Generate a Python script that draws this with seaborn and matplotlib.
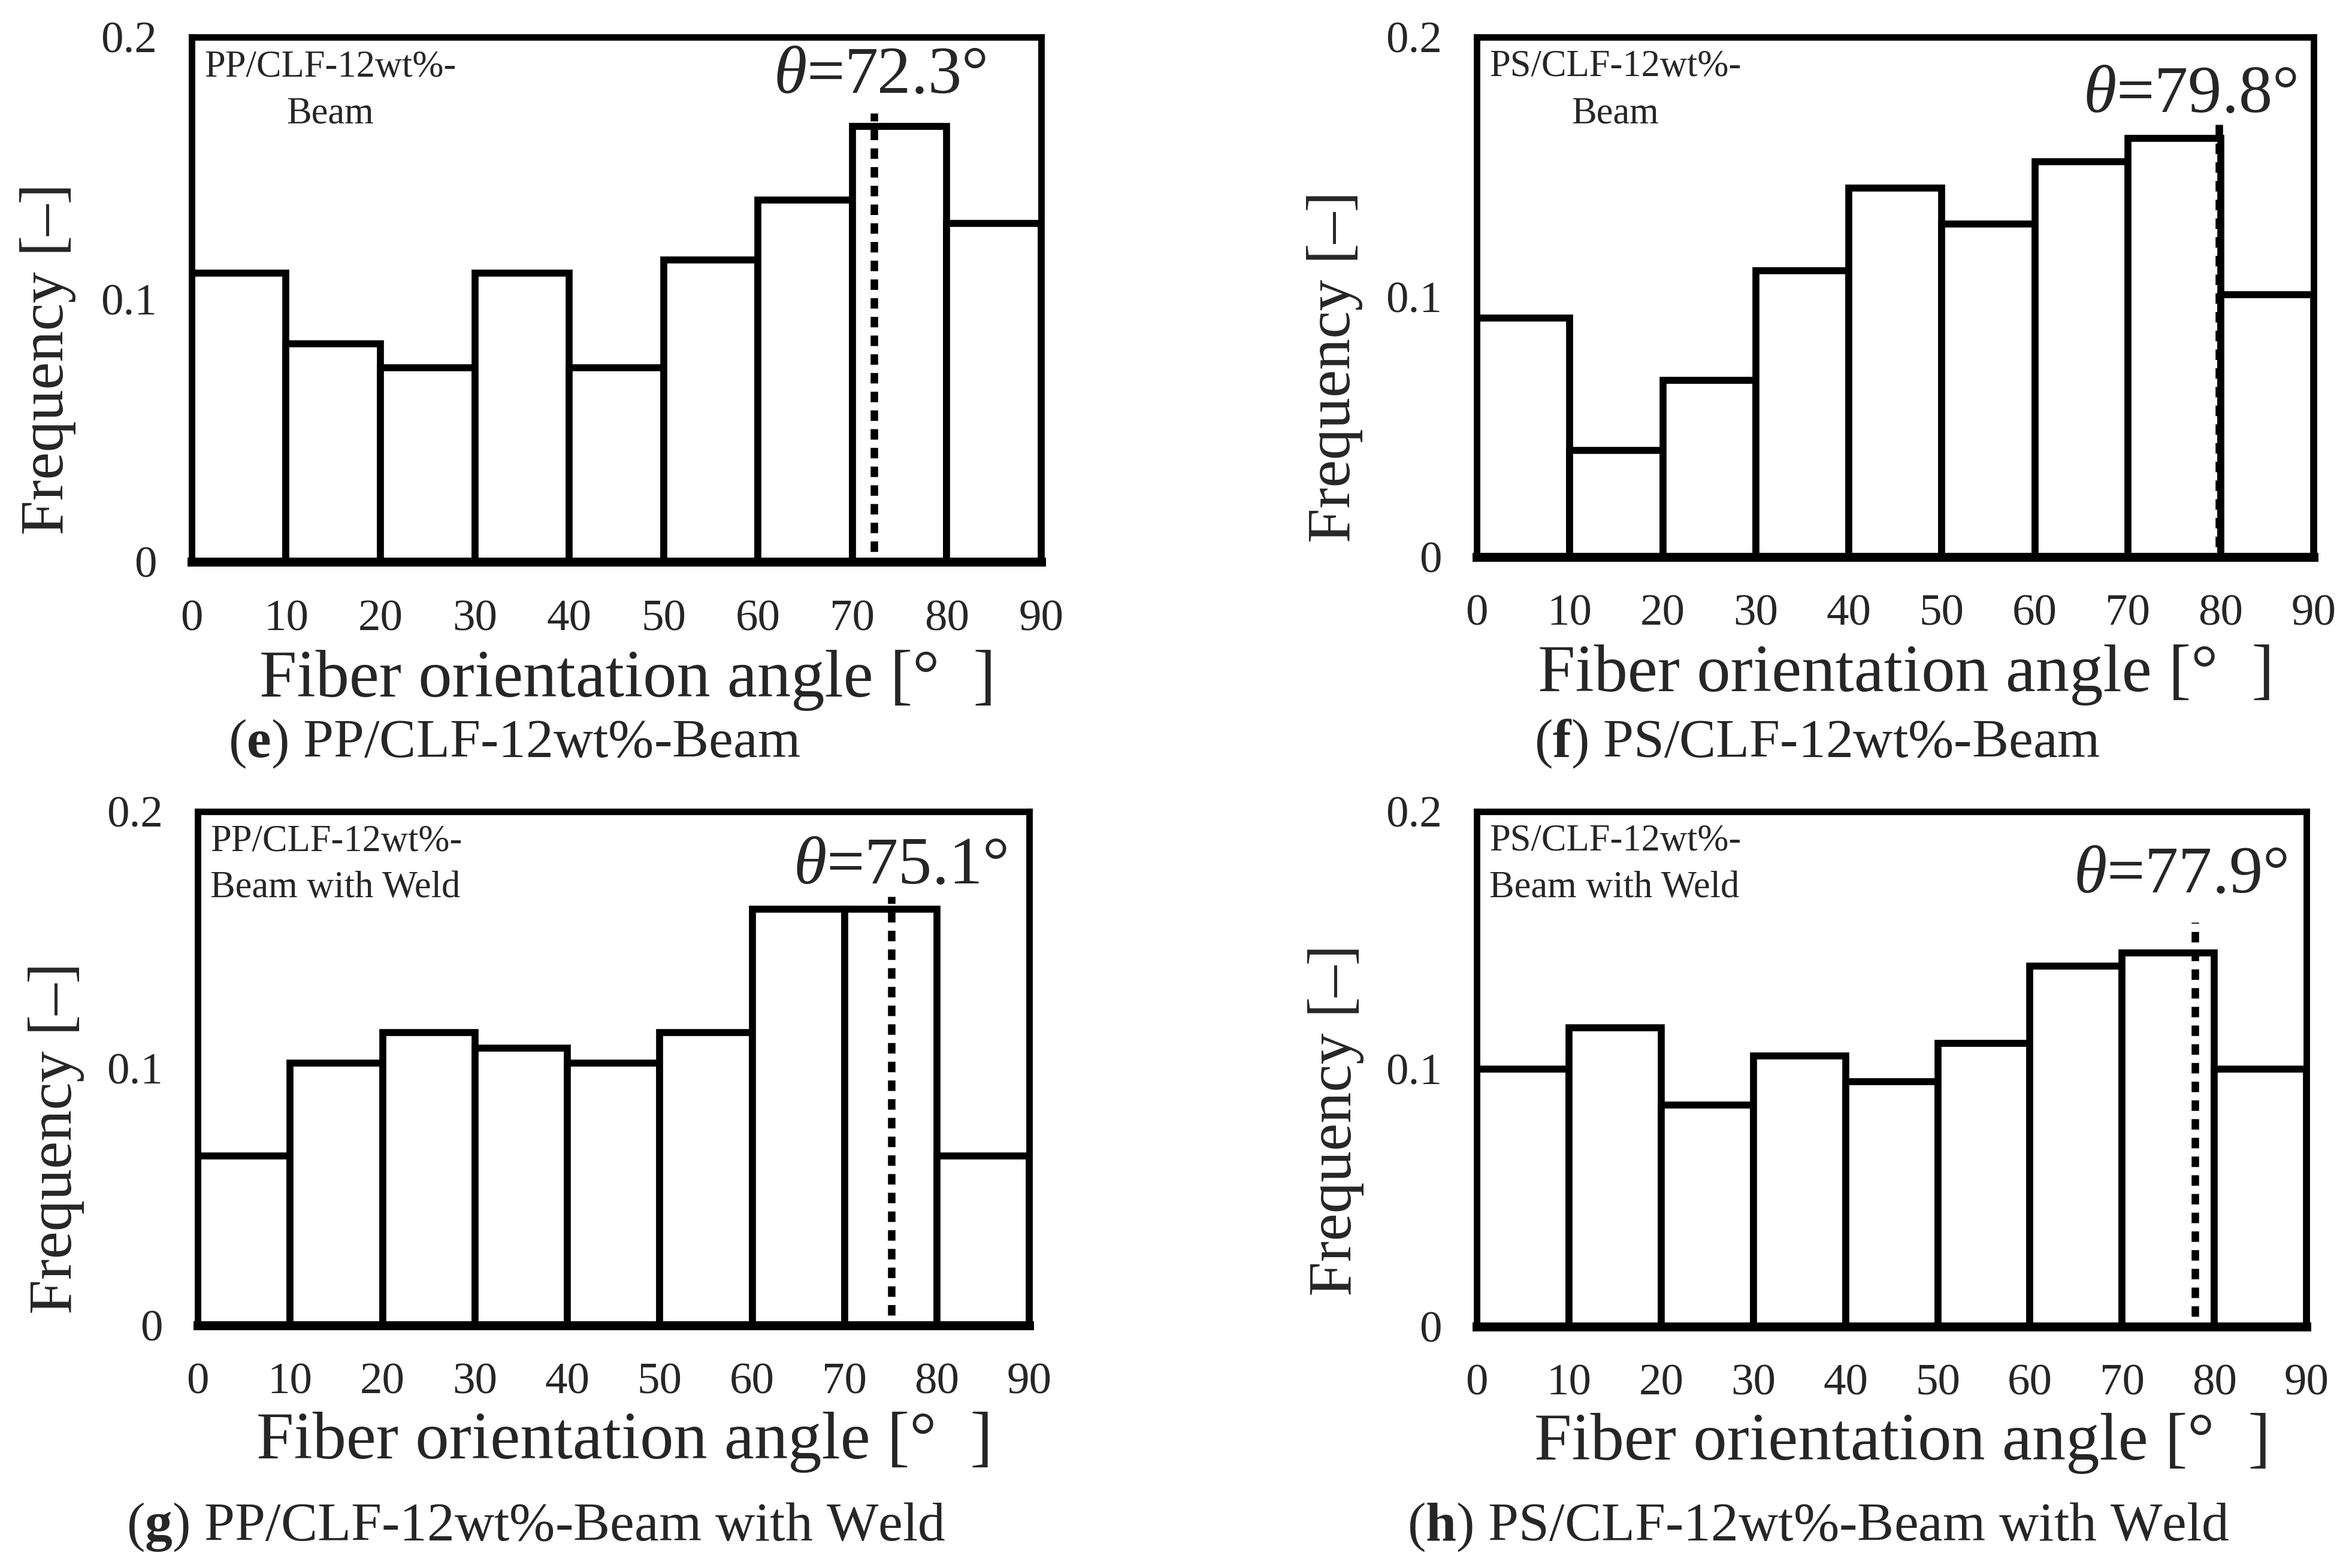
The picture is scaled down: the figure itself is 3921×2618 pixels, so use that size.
import numpy as np
import matplotlib
matplotlib.use("Agg")
import matplotlib.pyplot as plt
import seaborn as sns

# bin edges of the orientation histogram (degrees)
bin_edges = [0, 10, 20, 30, 40, 50, 60, 70, 80, 90]
bin_centers = [5, 15, 25, 35, 45, 55, 65, 75, 85]

# frequency per bin
freq_e = [0.110, 0.083, 0.074, 0.110, 0.074, 0.115, 0.138, 0.166, 0.129]
freq_f = [0.092, 0.041, 0.068, 0.110, 0.142, 0.128, 0.152, 0.161, 0.101]
freq_g = [0.066, 0.102, 0.114, 0.108, 0.102, 0.114, 0.162, 0.162, 0.066]
freq_h = [0.100, 0.116, 0.086, 0.105, 0.095, 0.110, 0.140, 0.145, 0.100]

# mean orientation angle and top of the dotted marker
theta = [72.3, 79.8, 75.1, 77.9]
theta_top = [0.171, 0.168, 0.167, 0.157]

labels = ["PP/CLF-12wt%-\nBeam", "PS/CLF-12wt%-\nBeam",
          "PP/CLF-12wt%-\nBeam with Weld", "PS/CLF-12wt%-\nBeam with Weld"]
captions = ["e", "f", "g", "h"]
caption_text = ["PP/CLF-12wt%-Beam", "PS/CLF-12wt%-Beam",
                "PP/CLF-12wt%-Beam with Weld", "PS/CLF-12wt%-Beam with Weld"]

x_ticks = [0, 10, 20, 30, 40, 50, 60, 70, 80, 90]
y_ticks = [0, 0.1, 0.2]
y_ticklabels = ["0", "0.1", "0.2"]

sns.set_theme(style="white")
plt.rcParams["font.family"] = ["Liberation Serif", "DejaVu Serif"]
plt.rcParams["mathtext.fontset"] = "custom"
plt.rcParams["mathtext.rm"] = "Liberation Serif"
plt.rcParams["mathtext.it"] = "Liberation Serif:italic"
plt.rcParams["mathtext.bf"] = "Liberation Serif:bold"

fig = plt.figure(figsize=(3921 / 300, 2618 / 300), dpi=300)

# axes boxes in figure fractions [left, bottom, width, height]
boxes = [[0.0816, 0.6417, 0.3616, 0.3346],
         [0.6287, 0.6448, 0.3563, 0.3316],
         [0.0842, 0.1547, 0.3540, 0.3277],
         [0.6287, 0.1540, 0.3532, 0.3285]]
all_freq = [freq_e, freq_f, freq_g, freq_h]
ylabel_y = [0.386, 0.366, 0.364, 0.40]
theta_pos = [(0.81, 0.894), (0.852, 0.856), (0.845, 0.86), (0.848, 0.843)]
cap_pos = [(0.219, 0.5256), (0.7735, 0.5256), (0.2283, 0.026), (0.774, 0.026)]

for i in range(4):
    ax = fig.add_axes(boxes[i])
    sns.histplot(x=bin_centers, weights=all_freq[i], bins=bin_edges,
                 color="white", edgecolor="black", linewidth=2.8,
                 alpha=1, ax=ax)
    ax.plot([theta[i], theta[i]], [0.004, theta_top[i]], color="black",
            lw=3.0, linestyle=(0, (1.4, 1.1)), zorder=5)

    ax.set_xlim(0, 90)
    ax.set_ylim(0, 0.2)
    ax.set_xticks(x_ticks)
    ax.set_yticks(y_ticks)
    ax.set_yticklabels(y_ticklabels)
    ax.tick_params(axis="x", length=0, pad=15, labelsize=18)
    ax.tick_params(axis="y", length=0, pad=14, labelsize=18)
    for side in ["top", "left", "right"]:
        ax.spines[side].set_linewidth(2.6)
        ax.spines[side].set_color("black")
    ax.spines["bottom"].set_linewidth(3.6)
    ax.spines["bottom"].set_color("black")

    ax.set_xlabel("Fiber orientation angle [°  ]", fontsize=27)
    ax.set_ylabel("Frequency [–]", fontsize=25)
    ax.xaxis.set_label_coords(0.513, -0.168)
    ax.yaxis.set_label_coords(-0.136, ylabel_y[i])

    align = "center" if i < 2 else "left"
    ax.text(0.015, 0.975, labels[i], transform=ax.transAxes, ha="left",
            va="top", fontsize=15, multialignment=align, linespacing=1.45)
    ax.text(theta_pos[i][0], theta_pos[i][1], r"$\theta$=%.1f°" % theta[i],
            transform=ax.transAxes, ha="center", va="baseline", fontsize=27)

    fig.text(cap_pos[i][0], cap_pos[i][1],
             r"($\mathbf{%s}$) %s" % (captions[i], caption_text[i]),
             ha="center", va="center", fontsize=22)

fig.savefig("out.png", dpi=300)
